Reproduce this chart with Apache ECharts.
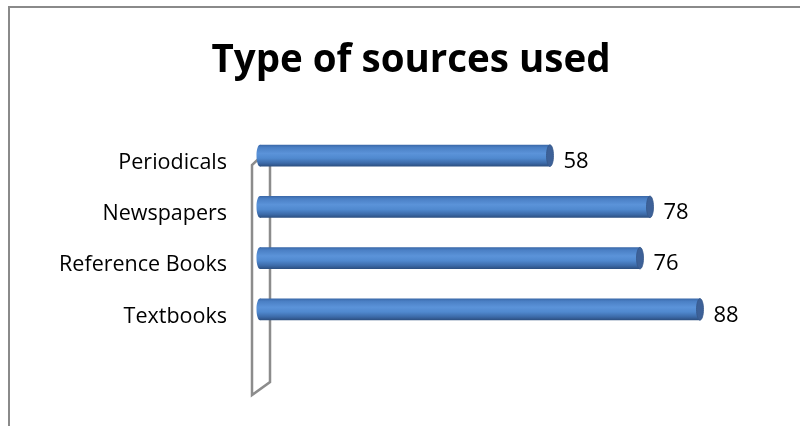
<!DOCTYPE html>
<html>
<head>
<meta charset="utf-8">
<script src="https://cdn.jsdelivr.net/npm/echarts@6/dist/echarts.min.js"></script>
<style>
  html, body { margin: 0; padding: 0; background: #fff; }
  #chart { width: 800px; height: 426px; }
</style>
</head>
<body>
<div id="chart"></div>
<script>
// Survey results: which kinds of sources were used
const categories = ['Periodicals', 'Newspapers', 'Reference Books', 'Textbooks'];
const values = [58, 78, 76, 88];
const titleText = 'Type of sources used';

const FONT = '"Open Sans", "Liberation Sans", sans-serif';
const GRID = { left: 260, right: 40, top: 130, bottom: 91 };

const chart = echarts.init(document.getElementById('chart'), null, { renderer: 'canvas' });

// Cylinder-style horizontal bar: shaded body, rounded back end, darker front cap
function renderCylinder(params, api) {
  const cat = api.value(0);
  const val = api.value(1);
  const start = api.coord([0, cat]);
  const end = api.coord([val, cat]);
  const band = api.size([0, 1])[1];
  const h = band * 0.42;
  const rx = 3.5;
  const y = start[1] - h / 2;
  const bodyFill = new echarts.graphic.LinearGradient(0, 0, 0, 1, [
    { offset: 0, color: '#3a68a8' },
    { offset: 0.12, color: '#4a7fc4' },
    { offset: 0.4, color: '#5b93d9' },
    { offset: 0.62, color: '#5089cf' },
    { offset: 0.85, color: '#3c6aa8' },
    { offset: 1, color: '#2c4f80' }
  ]);
  return {
    type: 'group',
    children: [
      {
        type: 'ellipse',
        shape: { cx: start[0], cy: start[1], rx: rx, ry: h / 2 },
        style: { fill: bodyFill }
      },
      {
        type: 'rect',
        shape: { x: start[0], y: y, width: end[0] - start[0], height: h },
        style: { fill: bodyFill }
      },
      {
        type: 'ellipse',
        shape: { cx: end[0], cy: end[1], rx: rx, ry: h / 2 },
        style: { fill: '#3d6198', stroke: '#36588a', lineWidth: 0.8 }
      },
      {
        type: 'text',
        style: {
          x: end[0] + rx + 10,
          y: end[1] + 6,
          text: String(val),
          fill: '#000',
          font: '22px ' + FONT,
          align: 'left',
          verticalAlign: 'middle'
        }
      }
    ]
  };
}

chart.setOption({
  animation: false,
  backgroundColor: '#fff',
  title: {
    text: titleText,
    left: 406,
    textAlign: 'center',
    top: 37,
    textStyle: { fontFamily: FONT, fontWeight: 'bold', fontSize: 38.5, color: '#000' }
  },
  grid: GRID,
  xAxis: {
    type: 'value',
    min: 0,
    max: 100,
    show: false
  },
  yAxis: {
    type: 'category',
    data: categories,
    inverse: true,
    axisLine: { show: false },
    axisTick: { show: false },
    splitLine: { show: false },
    axisLabel: {
      margin: 33,
      formatter: '{cat|{value}}',
      rich: {
        cat: {
          color: '#000',
          fontFamily: FONT,
          fontSize: 21.5,
          padding: [14, 0, 0, 0]
        }
      }
    }
  },
  series: [{
    type: 'custom',
    renderItem: renderCylinder,
    encode: { x: 1, y: 0 },
    data: values.map((v, i) => [i, v]),
    z: 10
  }]
});

// Chart frame and the side wall, placed from the grid's own pixel positions
const x0 = chart.convertToPixel({ xAxisIndex: 0 }, 0);
const gTop = GRID.top;
const gBottom = 426 - GRID.bottom;
const wallBack = x0 + 10;
const wallFront = x0 - 8;
chart.setOption({
  graphic: [
    {
      type: 'rect',
      shape: { x: 9, y: 7, width: 820, height: 500 },
      style: { fill: 'none', stroke: '#8a8a8a', lineWidth: 2 },
      silent: true,
      z: 0
    },
    {
      type: 'polyline',
      shape: {
        points: [
          [wallBack, gTop + 18],
          [wallFront, gTop + 35],
          [wallFront, gBottom + 60],
          [wallBack, gBottom + 47],
          [wallBack, gTop + 18]
        ]
      },
      style: { fill: 'none', stroke: '#8c8c8c', lineWidth: 2.5 },
      silent: true,
      z: 1
    }
  ]
});
</script>
</body>
</html>
